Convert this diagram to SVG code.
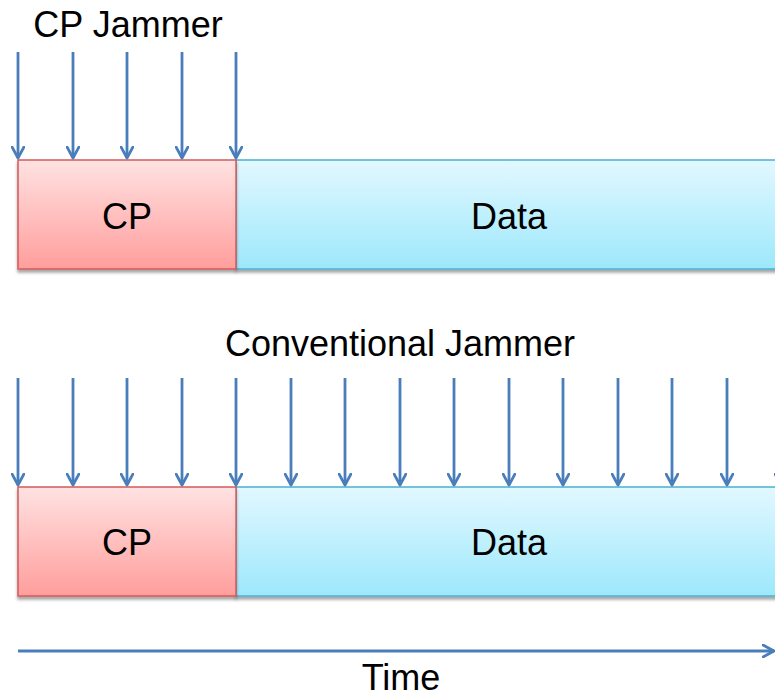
<svg xmlns="http://www.w3.org/2000/svg" width="775" height="696" viewBox="0 0 775 696">
  <defs>
    <linearGradient id="gradCp" x1="0" y1="0" x2="0" y2="1">
      <stop offset="0" stop-color="#ffe2e2"/>
      <stop offset="1" stop-color="#ff9e9c"/>
    </linearGradient>
    <linearGradient id="gradData" x1="0" y1="0" x2="0" y2="1">
      <stop offset="0" stop-color="#e2f8ff"/>
      <stop offset="1" stop-color="#9de8fc"/>
    </linearGradient>
    <filter id="shadow" x="-5%" y="-10%" width="110%" height="130%">
      <feDropShadow dx="0" dy="3" stdDeviation="1.5" flood-color="#000" flood-opacity="0.35"/>
    </filter>
    <marker id="chev" viewBox="0 0 14 14" refX="12" refY="7" markerWidth="14" markerHeight="14" markerUnits="userSpaceOnUse" orient="auto">
      <path d="M1,1 L12,7 L1,13" fill="none" stroke="#4a7ebb" stroke-width="2.8" stroke-linecap="round" stroke-linejoin="round"/>
    </marker>
  </defs>
  <style>
    .lbl { font-family: "Liberation Sans", Arial, sans-serif; font-size: 36px; fill: #000; text-anchor: middle; }
    .cp { fill: url(#gradCp); stroke: #d35a5a; stroke-width: 1.5; filter: url(#shadow); }
    .data { fill: url(#gradData); stroke: #4bb0d0; stroke-width: 1.5; filter: url(#shadow); }
    .jam { stroke: #4a7ebb; stroke-width: 2.8; fill: none; marker-end: url(#chev); }
  </style>

  <!-- upper frame: jamming only the cyclic prefix -->
  <g id="top-frame">
    <g id="top-data">
      <rect class="data" x="236" y="160" width="550" height="109"/>
      <text class="lbl" x="509" y="229">Data</text>
    </g>
    <g id="top-cp">
      <rect class="cp" x="18" y="160" width="218" height="109"/>
      <text class="lbl" x="127" y="229">CP</text>
    </g>
  </g>
  <g id="top-label">
    <text class="lbl" x="128" y="37">CP Jammer</text>
  </g>

  <!-- lower frame: jamming the whole symbol -->
  <g id="bottom-frame">
    <g id="bottom-data">
      <rect class="data" x="236" y="487" width="550" height="109"/>
      <text class="lbl" x="509" y="555">Data</text>
    </g>
    <g id="bottom-cp">
      <rect class="cp" x="18" y="487" width="218" height="109"/>
      <text class="lbl" x="127" y="555">CP</text>
    </g>
  </g>
  <g id="bottom-label">
    <text class="lbl" x="400" y="356">Conventional Jammer</text>
  </g>

  <g id="time-label">
    <text class="lbl" x="401" y="690">Time</text>
  </g>

  <!-- jamming pulses and time axis -->
  <g id="connectors">
    <line class="jam" x1="18" y1="52" x2="18" y2="158"/>
    <line class="jam" x1="73" y1="52" x2="73" y2="158"/>
    <line class="jam" x1="127" y1="52" x2="127" y2="158"/>
    <line class="jam" x1="182" y1="52" x2="182" y2="158"/>
    <line class="jam" x1="236" y1="52" x2="236" y2="158"/>

    <line class="jam" x1="18" y1="378" x2="18" y2="485"/>
    <line class="jam" x1="73" y1="378" x2="73" y2="485"/>
    <line class="jam" x1="127" y1="378" x2="127" y2="485"/>
    <line class="jam" x1="182" y1="378" x2="182" y2="485"/>
    <line class="jam" x1="236" y1="378" x2="236" y2="485"/>
    <line class="jam" x1="291" y1="378" x2="291" y2="485"/>
    <line class="jam" x1="345" y1="378" x2="345" y2="485"/>
    <line class="jam" x1="400" y1="378" x2="400" y2="485"/>
    <line class="jam" x1="454" y1="378" x2="454" y2="485"/>
    <line class="jam" x1="509" y1="378" x2="509" y2="485"/>
    <line class="jam" x1="563" y1="378" x2="563" y2="485"/>
    <line class="jam" x1="618" y1="378" x2="618" y2="485"/>
    <line class="jam" x1="672" y1="378" x2="672" y2="485"/>
    <line class="jam" x1="727" y1="378" x2="727" y2="485"/>
    <line class="jam" x1="781" y1="378" x2="781" y2="485"/>

    <line class="jam" x1="18" y1="651" x2="774" y2="651"/>
  </g>
</svg>
